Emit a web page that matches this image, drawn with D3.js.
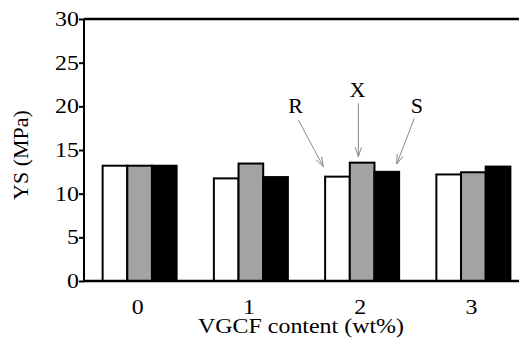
<!DOCTYPE html>
<html><head><meta charset="utf-8">
<script src="https://cdn.jsdelivr.net/npm/d3@7"></script>
<style>html,body{margin:0;padding:0;background:#fff;overflow:hidden}
svg text{font-family:"Liberation Serif","Times New Roman",Times,"DejaVu Serif",serif;}</style>
</head><body>
<script>
const categories = [0, 1, 2, 3];
const seriesNames = ["R", "X", "S"];
const valuesR = [13.2, 11.75, 11.95, 12.2];
const valuesX = [13.2, 13.45, 13.55, 12.45];
const valuesS = [13.2, 11.9, 12.5, 13.1];
const yTicks = [0, 5, 10, 15, 20, 25, 30];
const xTickLabels = ["0", "1", "2", "3"];
const seriesFill = ["#ffffff", "#a3a3a3", "#000000"];
// annotation labels (data coords): text position, arrow start, arrow tip
const annLabels = ["R", "X", "S"];
const annTextX = [1.403, 1.959, 2.493];
const annTextY = [19.24, 21.03, 19.24];
const annFromX = [1.427, 1.966, 2.469];
const annFromY = [18.43, 20.35, 18.63];
const annToX = [1.651, 1.966, 2.311];
const annToY = [13.09, 14.23, 13.4];

const W = 519, H = 341;
const svg = d3.select("body").append("svg").attr("width", W).attr("height", H);
const x = d3.scaleLinear().domain([-0.5, 3.5]).range([84, 529]);
const y = d3.scaleLinear().domain([0, 30]).range([281, 19]);
const inner = d3.scaleBand().domain(seriesNames).range([-37, 37]);
const stretch = 1.14;

const series = [valuesR, valuesX, valuesS];
const bars = [];
series.forEach((vals, si) => vals.forEach((v, ci) => bars.push({s: seriesNames[si], si, c: categories[ci], v})));

svg.append("g").selectAll("rect").data(bars).join("rect")
  .attr("x", d => x(d.c) + inner(d.s))
  .attr("width", inner.bandwidth())
  .attr("y", d => y(d.v))
  .attr("height", d => y(0) - y(d.v))
  .attr("fill", d => seriesFill[d.si])
  .attr("stroke", "#000").attr("stroke-width", 2);

// frame: left axis, top and bottom lines
const yAxis = d3.axisLeft(y).tickValues(yTicks).tickSize(5).tickFormat("");
const gy = svg.append("g").attr("transform", `translate(${x(-0.5)},0)`).call(yAxis);
gy.select(".domain").attr("stroke-width", 2).attr("d", `M0,${y(30)}V${y(0)}`);
gy.selectAll(".tick line").attr("stroke-width", 2);
svg.append("line").attr("x1", x(-0.5)).attr("x2", x(3.5)).attr("y1", y(30)).attr("y2", y(30)).attr("stroke", "#000").attr("stroke-width", 2.5);
svg.append("line").attr("x1", x(-0.5)-1).attr("x2", x(3.5)).attr("y1", y(0)).attr("y2", y(0)).attr("stroke", "#000").attr("stroke-width", 2.5);

// y tick labels
svg.append("g").selectAll("text").data(yTicks).join("text")
  .attr("transform", d => `translate(${x(-0.5) - 5},${y(d) + 7}) scale(${stretch},1)`)
  .attr("text-anchor", "end").attr("font-size", 21).text(d => d);

// x tick labels
svg.append("g").selectAll("text").data(categories).join("text")
  .attr("transform", d => `translate(${x(d) - 2},314) scale(${stretch},1)`)
  .attr("text-anchor", "middle").attr("font-size", 21).text((d, i) => xTickLabels[i]);

// axis titles
svg.append("text").attr("transform", `translate(301,333) scale(${stretch},1)`)
  .attr("text-anchor", "middle").attr("font-size", 21).text("VGCF content (wt%)");
svg.append("text").attr("transform", `translate(28,155) rotate(-90)`)
  .attr("text-anchor", "middle").attr("font-size", 22).text("YS (MPa)");

// annotations
const ann = annLabels.map((l, i) => ({l, tx: annTextX[i], ty: annTextY[i], fx: annFromX[i], fy: annFromY[i], ex: annToX[i], ey: annToY[i]}));
const ga = svg.append("g");
ga.selectAll("text").data(ann).join("text")
  .attr("x", d => x(d.tx)).attr("y", d => y(d.ty))
  .attr("text-anchor", "middle").attr("font-size", 22).text(d => d.l);
ann.forEach(d => {
  const x1 = x(d.fx), y1 = y(d.fy), x2 = x(d.ex), y2 = y(d.ey);
  const ang = Math.atan2(y2 - y1, x2 - x1);
  const L = 10, a = 0.32;
  const p1 = [x2 - L * Math.cos(ang - a), y2 - L * Math.sin(ang - a)];
  const p2 = [x2 - L * Math.cos(ang + a), y2 - L * Math.sin(ang + a)];
  ga.append("path")
    .attr("d", `M${x1},${y1}L${x2},${y2}M${p1[0]},${p1[1]}L${x2},${y2}L${p2[0]},${p2[1]}`)
    .attr("fill", "none").attr("stroke", "#8a8a8a").attr("stroke-width", 1);
});
</script>
</body></html>
